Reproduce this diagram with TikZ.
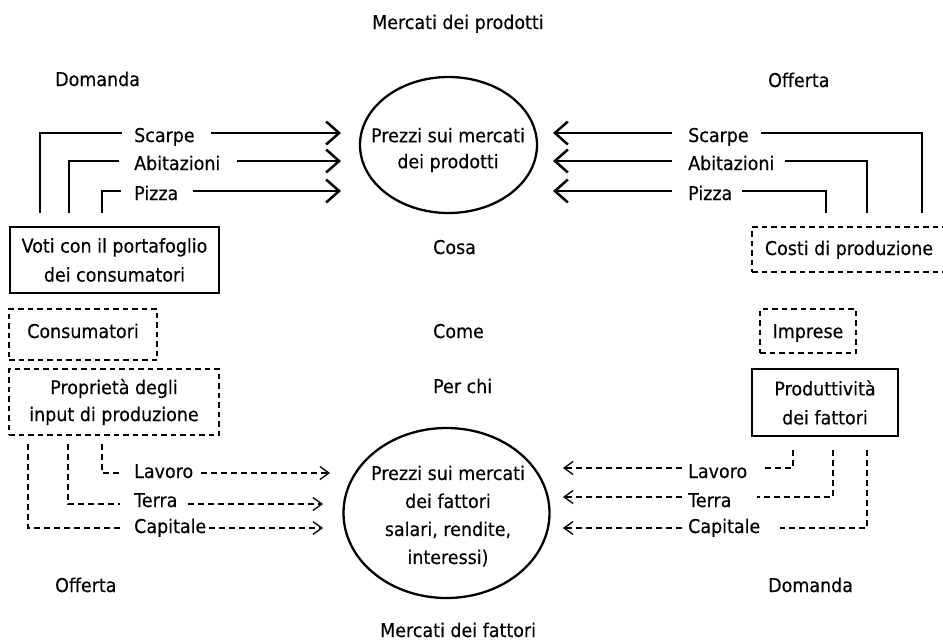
\documentclass[tikz,border=0pt]{standalone}
\usepackage{fontspec}
\setmainfont{DejaVu Sans}[FakeStretch=0.92, FakeBold=0.3]
\usetikzlibrary{arrows.meta,shapes.geometric}
\begin{document}
\begin{tikzpicture}[x=1pt,y=-1pt,
  every node/.style={font=\fontsize{19}{29}\selectfont},
  lbl/.style={inner sep=0pt, text height=#1, text depth=0pt, anchor=west},
  lbl/.default=18pt,
  plain/.style={inner sep=0pt, anchor=base west},
  solidln/.style={line width=2.5pt},
  solidarr/.style={line width=2.5pt, -{Straight Barb[length=13pt,width=23pt]}},
  dashln/.style={line width=1.3pt, dash pattern=on 6pt off 4pt},
  dasharr/.style={dashln, -{Straight Barb[length=9pt,width=13pt]}},
  solidbox/.style={draw, line width=2.3pt, inner sep=0pt, align=center},
  dashbox/.style={draw, line width=1.3pt, dash pattern=on 5.5pt off 4pt, inner sep=0pt, align=center},
  market/.style={draw, ellipse, line width=2.3pt, inner sep=0pt},
]
\clip (0,0) rectangle (943,643);

% headings and questions
\node[plain] (tp) at (372,29) {Mercati dei prodotti};
\node[plain] (bt) at (380,637) {Mercati dei fattori};
\node[plain] (dTop) at (55,86) {Domanda};
\node[plain] (oTop) at (768,87) {Offerta};
\node[plain] (oBot) at (55,592) {Offerta};
\node[plain] (dBot) at (768,592) {Domanda};
\node[plain] (cosa) at (433,254) {Cosa};
\node[plain] (come) at (433,338) {Come};
\node[plain] (perchi) at (433,393) {Per chi};

% the two markets
\node[market, minimum width=177pt, minimum height=136pt] (pm) at (448.5,145) {};
\node[align=center, inner sep=0pt, font=\fontsize{19}{26}\selectfont] (pmt) at (448,150)
  {Prezzi sui mercati\\dei prodotti};
\node[market, minimum width=206pt, minimum height=170pt] (fm) at (446.5,513) {};
\node[align=center, inner sep=0pt, font=\fontsize{19}{28}\selectfont] (fmt) at (448,516)
  {Prezzi sui mercati\\dei fattori\\salari, rendite,\\interessi)};

% boxes
\node[solidbox, minimum width=209pt, minimum height=66pt] (voti) at (114.5,260)
  {Voti con il portafoglio\\dei consumatori};
\node[dashbox, minimum width=148pt, minimum height=51pt, text height=14pt, text depth=7pt] (cons) at (83,334.5) {Consumatori};
\node[dashbox, minimum width=210pt, minimum height=66pt, font=\fontsize{19}{27}\selectfont] (prop) at (114,402)
  {Proprietà degli\\input di produzione};
\node[dashbox, minimum width=194pt, minimum height=45pt, text height=14pt, text depth=3pt] (costi) at (849,249.5) {Costi di produzione};
\node[dashbox, minimum width=96pt, minimum height=44pt, text height=14pt, text depth=0pt] (impr) at (808,331) {Imprese};
\node[solidbox, minimum width=146pt, minimum height=67pt] (prod) at (825,402.5)
  {Produttività\\dei fattori};

% demand for products (left, solid)
\coordinate (vL1) at (40,213);
\coordinate (vL2) at (69,213);
\coordinate (vL3) at (102,213);
\coordinate (tL1) at (341,133);
\coordinate (tL2) at (341,161);
\coordinate (tL3) at (341,191);
\node[lbl] (lS) at (134,133) {Scarpe};
\node[lbl] (lA) at (134,161) {Abitazioni};
\node[lbl] (lP) at (134,191) {Pizza};
\draw[solidln, shorten >=12pt] (vL1) |- (lS.west);
\draw[solidln, shorten >=15pt] (vL2) |- (lA.west);
\draw[solidln, shorten >=13pt] (vL3) |- (lP.west);
\draw[solidarr, shorten <=16pt] (lS.east) -- (tL1);
\draw[solidarr, shorten <=16pt] (lA.east) -- (tL2);
\draw[solidarr, shorten <=15pt] (lP.east) -- (tL3);

% supply of products (right, solid)
\coordinate (vR1) at (922,213);
\coordinate (vR2) at (867,213);
\coordinate (vR3) at (826,213);
\coordinate (tR1) at (553,133);
\coordinate (tR2) at (553,161);
\coordinate (tR3) at (553,191);
\node[lbl] (rS) at (688,133) {Scarpe};
\node[lbl] (rA) at (688,161) {Abitazioni};
\node[lbl] (rP) at (688,191) {Pizza};
\draw[solidln, shorten >=12pt] (vR1) |- (rS.east);
\draw[solidln, shorten >=10pt] (vR2) |- (rA.east);
\draw[solidln, shorten >=10pt] (vR3) |- (rP.east);
\draw[solidarr, shorten <=16pt] (rS.west) -- (tR1);
\draw[solidarr, shorten <=16pt] (rA.west) -- (tR2);
\draw[solidarr, shorten <=16pt] (rP.west) -- (tR3);

% supply of factors (left, dashed)
\coordinate (wL1) at (102,444);
\coordinate (wL2) at (68,444);
\coordinate (wL3) at (28,444);
\coordinate (uL1) at (330,473);
\coordinate (uL2) at (323,504);
\coordinate (uL3) at (323,528);
\node[lbl=10pt] (bLa) at (134,473) {Lavoro};
\node[lbl=6pt] (bTe) at (134,504) {Terra};
\node[lbl=10pt] (bCa) at (134,528) {Capitale};
\draw[dashln, shorten >=14pt] (wL1) |- (bLa.west);
\draw[dashln, shorten >=14pt] (wL2) |- (bTe.west);
\draw[dashln, shorten >=11pt] (wL3) |- (bCa.west);
\draw[dasharr, shorten <=8pt] (bLa.east) -- (uL1);
\draw[dasharr, shorten <=10pt] (bTe.east) -- (uL2);
\draw[dasharr, shorten <=3pt] (bCa.east) -- (uL3);

% demand for factors (right, dashed)
\coordinate (wR1) at (793,450);
\coordinate (wR2) at (833,450);
\coordinate (wR3) at (867,450);
\coordinate (uR1) at (563,468);
\coordinate (uR2) at (563,497);
\coordinate (uR3) at (563,528);
\node[lbl=20pt] (rLa) at (688,468) {Lavoro};
\node[lbl=20pt] (rTe) at (688,497) {Terra};
\node[lbl=10pt] (rCa) at (688,528) {Capitale};
\draw[dashln, shorten >=15pt] (wR1) |- (rLa.east);
\draw[dashln, shorten >=25pt] (wR2) |- (rTe.east);
\draw[dashln, shorten >=20pt] (wR3) |- (rCa.east);
\draw[dasharr, shorten <=6pt] (rLa.west) -- (uR1);
\draw[dasharr, shorten <=6pt] (rTe.west) -- (uR2);
\draw[dasharr, shorten <=6pt] (rCa.west) -- (uR3);
\end{tikzpicture}
\end{document}
